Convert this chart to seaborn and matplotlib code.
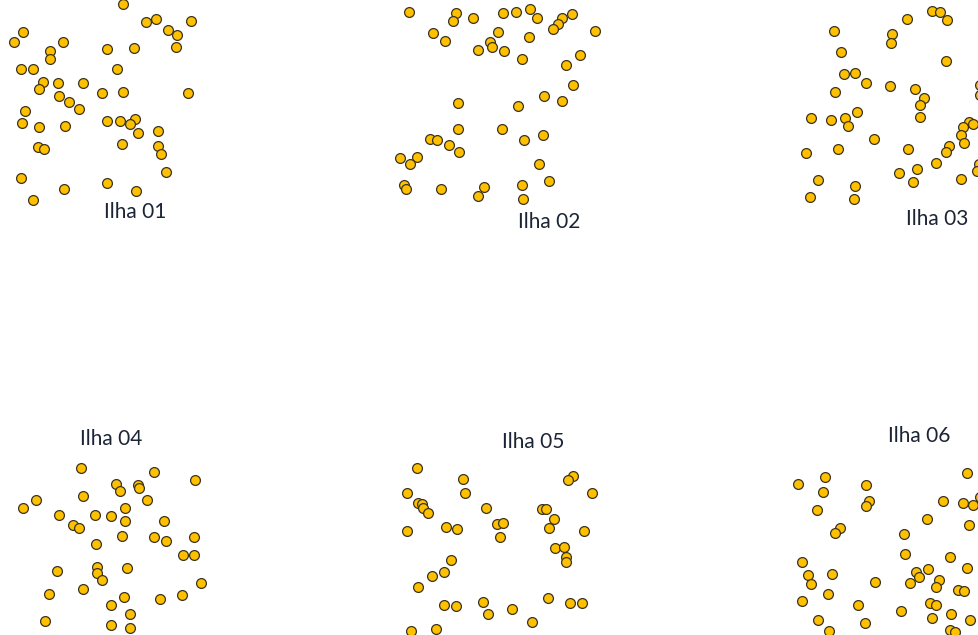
import matplotlib
matplotlib.use("Agg")
import matplotlib.pyplot as plt
import seaborn as sns
import pandas as pd

# point positions per island (pixel-like units)
ilha_01 = [(123, 4), (146, 22), (156, 19), (191, 21), (168, 30), (177, 35), (176, 47),
           (23, 32), (14, 42), (63, 42), (50, 51), (50, 59), (107, 49), (134, 48),
           (21, 69), (33, 69), (117, 69), (43, 82), (39, 89), (58, 83), (83, 83),
           (102, 93), (123, 92), (188, 93), (59, 96), (69, 102), (79, 109), (25, 111),
           (22, 123), (39, 127), (65, 126), (107, 121), (120, 121), (135, 119),
           (130, 124), (138, 133), (158, 131), (38, 147), (44, 149), (122, 144),
           (158, 146), (161, 154), (166, 172), (21, 178), (64, 189), (107, 183),
           (136, 191), (33, 200)]
ilha_02 = [(409, 12), (456, 13), (453, 21), (473, 18), (503, 13), (516, 12), (530, 9),
           (537, 18), (572, 14), (562, 18), (558, 24), (553, 29), (595, 31), (433, 33),
           (445, 41), (498, 32), (529, 37), (490, 42), (492, 47), (478, 50), (504, 51),
           (522, 59), (580, 55), (566, 65), (573, 85), (544, 96), (562, 101), (518, 106),
           (458, 103), (458, 129), (502, 129), (543, 135), (524, 140), (430, 139),
           (437, 140), (449, 145), (459, 152), (400, 158), (417, 157), (410, 164),
           (539, 164), (404, 185), (406, 189), (441, 189), (484, 187), (478, 196),
           (522, 185), (549, 181), (523, 199)]
ilha_03 = [(932, 11), (940, 12), (907, 19), (947, 20), (834, 31), (892, 34), (891, 43),
           (841, 52), (946, 61), (844, 74), (855, 73), (866, 83), (890, 86), (835, 92),
           (915, 89), (924, 98), (920, 105), (920, 117), (980, 85), (980, 95), (811, 118),
           (831, 120), (845, 118), (848, 126), (857, 112), (874, 139), (969, 122),
           (973, 124), (963, 127), (961, 135), (964, 143), (949, 146), (946, 152),
           (908, 149), (838, 149), (806, 153), (936, 163), (917, 169), (899, 173),
           (913, 182), (979, 164), (977, 171), (961, 179), (818, 180), (855, 186),
           (810, 197), (854, 199)]
ilha_04 = [(81, 468), (154, 472), (195, 480), (116, 484), (120, 491), (138, 485),
           (139, 488), (83, 496), (36, 500), (23, 508), (147, 500), (59, 515), (95, 515),
           (111, 516), (125, 508), (125, 521), (73, 525), (79, 528), (164, 521),
           (122, 536), (154, 537), (166, 541), (194, 537), (96, 544), (183, 555),
           (194, 555), (57, 571), (97, 567), (97, 573), (102, 580), (127, 568),
           (201, 583), (49, 594), (83, 589), (124, 597), (160, 599), (182, 595),
           (111, 605), (130, 614), (45, 621), (111, 625), (130, 628)]
ilha_05 = [(417, 468), (463, 479), (573, 476), (568, 480), (407, 493), (465, 493),
           (592, 493), (418, 503), (422, 504), (423, 508), (428, 513), (486, 508),
           (542, 509), (546, 509), (554, 519), (497, 524), (503, 523), (446, 527),
           (457, 529), (407, 531), (549, 528), (584, 531), (500, 537), (555, 548),
           (564, 547), (566, 557), (566, 562), (451, 560), (444, 572), (432, 576),
           (418, 587), (548, 598), (483, 602), (444, 605), (456, 606), (570, 603),
           (582, 603), (512, 609), (488, 614), (532, 622), (411, 631), (436, 629)]
ilha_06 = [(967, 473), (825, 477), (798, 484), (866, 485), (823, 492), (869, 501),
           (866, 506), (817, 510), (943, 501), (963, 503), (973, 505), (980, 497),
           (927, 519), (969, 525), (840, 528), (835, 533), (904, 534), (905, 554),
           (802, 562), (950, 557), (967, 568), (928, 569), (916, 572), (919, 577),
           (832, 574), (808, 575), (811, 584), (875, 582), (910, 583), (939, 580),
           (936, 587), (958, 590), (964, 591), (828, 594), (802, 601), (858, 605),
           (930, 603), (936, 605), (901, 611), (951, 614), (932, 618), (970, 620),
           (818, 620), (865, 623), (829, 631), (950, 630), (955, 632)]

islands = [ilha_01, ilha_02, ilha_03, ilha_04, ilha_05, ilha_06]
labels = ["Ilha 01", "Ilha 02", "Ilha 03", "Ilha 04", "Ilha 05", "Ilha 06"]
label_pos = [(135, 212), (549, 222), (937, 219), (111, 439), (533, 442), (919, 436)]

rows = []
for name, pts in zip(labels, islands):
    for x, y in pts:
        rows.append({"x": x, "y": y, "ilha": name})
df = pd.DataFrame(rows)

sns.set_style("white")
plt.rcParams["font.family"] = ["Lato", "DejaVu Sans"]

fig = plt.figure(figsize=(9.79, 6.35), dpi=100)
ax = fig.add_axes([0, 0, 1, 1])
sns.scatterplot(data=df, x="x", y="y", ax=ax, color="#FFC000", s=50,
                edgecolor="#3a3320", linewidth=0.9, legend=False)

for name, (lx, ly) in zip(labels, label_pos):
    ax.text(lx, ly, name, ha="center", va="center", fontsize=15, color="#1c2536")

ax.set_xlim(0, 979)
ax.set_ylim(635, 0)
ax.axis("off")

fig.savefig("out.png", dpi=100)
